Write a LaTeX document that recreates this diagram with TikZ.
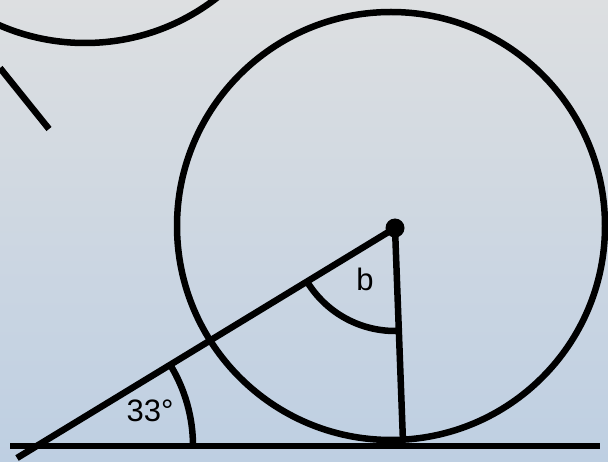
\documentclass[tikz,border=0pt]{standalone}
\usepackage{fontspec}
\setmainfont{Liberation Sans}
\usetikzlibrary{angles, calc, quotes, arrows.meta}
\definecolor{skytop}{RGB}{221,223,225}
\definecolor{skybottom}{RGB}{190,207,226}

\begin{document}
\begin{tikzpicture}[x=1pt,y=1pt,line width=6.5pt,
        lbl/.style={font=\fontsize{31}{31}\selectfont,inner sep=0pt}]
        % Define dimensions
        \def\picwidth{608}
        \def\picheight{461}
        \def\rad{214}
        % Background
        \useasboundingbox (0,0) rectangle (\picwidth,\picheight);
        \clip (0,0) rectangle (\picwidth,\picheight);
        \shade[top color=skytop,bottom color=skybottom] (0,0) rectangle (\picwidth,\picheight);
        % Points
        \coordinate (C) at (391,235);
        \coordinate (O) at (395,233);
        \coordinate (T) at (403,19);
        \coordinate (S) at (17,3);
        \coordinate (A) at (37,15);
        \coordinate (G1) at (10,15);
        \coordinate (G2) at (600,15);
        \coordinate (P) at (85,633);
        \coordinate (Q1) at (0,393);
        \coordinate (Q2) at (49,332);
        % Circles
        \draw (C) circle (\rad);
        \draw (P) circle (215);
        \draw (Q1) -- (Q2);
        % Ground and lines
        \draw (G1) -- (G2);
        \draw (S) -- (O);
        \draw (O) -- (T);
        \fill (O) circle (9.5);
        % Angles
        \pic[draw,angle radius=156pt] {angle = G2--A--O};
        \pic[draw,angle radius=103pt] {angle = A--O--T};
        \node[lbl] (a33) at (150,50) {33°};
        \node[lbl] (b) at (365,182) {b};
    \end{tikzpicture}
\end{document}
